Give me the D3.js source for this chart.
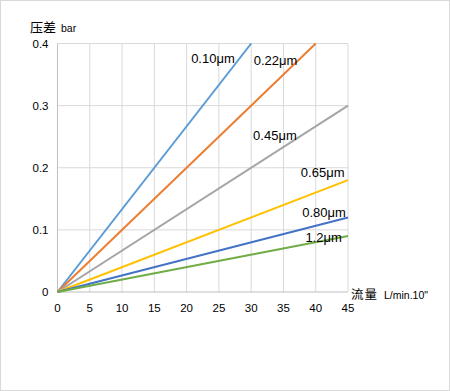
<!DOCTYPE html>
<html>
<head>
<meta charset="utf-8">
<script src="https://d3js.org/d3.v7.min.js"></script>
<style>
  body { margin: 0; background: #fff; }
  svg { display: block; font-family: "Liberation Sans", Arial, sans-serif; }
</style>
</head>
<body>
<svg id="chart" width="450" height="391"></svg>
<script>
// data: pressure drop (bar) vs flow (L/min per 10" element)
const xTicks = [0, 5, 10, 15, 20, 25, 30, 35, 40, 45];
const yTicks = [0, 0.1, 0.2, 0.3, 0.4];
const poreSizes = ["0.10μm", "0.22μm", "0.45μm", "0.65μm", "0.80μm", "1.2μm"];
const flowPoints = [
  [0, 30],
  [0, 40],
  [0, 45],
  [0, 45],
  [0, 45],
  [0, 45]
];
const dpPoints = [
  [0, 0.4],
  [0, 0.4],
  [0, 0.3],
  [0, 0.18],
  [0, 0.12],
  [0, 0.09]
];
const colors = ["#5B9BD5", "#ED7D31", "#A5A5A5", "#FFC000", "#4472C4", "#70AD47"];
// label anchors in data units (left edge / baseline)
const labelAt = [
  [20.7, 0.369],
  [30.4, 0.365],
  [30.3, 0.244],
  [37.7, 0.185],
  [37.9, 0.12],
  [38.4, 0.081]
];

const svg = d3.select("#chart");
const W = 450, H = 391;

svg.append("rect")
  .attr("x", 0.5).attr("y", 0.5)
  .attr("width", W - 1).attr("height", H - 1)
  .attr("fill", "#fff").attr("stroke", "#d9d9d9");

const x = d3.scaleLinear([0, 45], [57.5, 348]);
const y = d3.scaleLinear([0, 0.4], [292, 43.5]);

// grid
svg.append("g")
  .selectAll("line")
  .data(xTicks.slice(1))
  .join("line")
  .attr("x1", d => x(d)).attr("x2", d => x(d))
  .attr("y1", y(0)).attr("y2", y(0.4))
  .attr("stroke", "#d9d9d9");

svg.append("g")
  .selectAll("line")
  .data(yTicks.slice(1))
  .join("line")
  .attr("x1", x(0)).attr("x2", x(45))
  .attr("y1", d => y(d)).attr("y2", d => y(d))
  .attr("stroke", "#d9d9d9");

// axes lines
svg.append("line")
  .attr("x1", x(0)).attr("x2", x(0))
  .attr("y1", y(0)).attr("y2", y(0.4))
  .attr("stroke", "#bfbfbf");
svg.append("line")
  .attr("x1", x(0)).attr("x2", x(45))
  .attr("y1", y(0)).attr("y2", y(0))
  .attr("stroke", "#bfbfbf");

// tick labels
svg.append("g")
  .selectAll("text")
  .data(xTicks)
  .join("text")
  .attr("x", d => x(d))
  .attr("y", 312)
  .attr("text-anchor", "middle")
  .attr("font-size", 11.5)
  .attr("fill", "#000")
  .text(d => d);

svg.append("g")
  .selectAll("text")
  .data(yTicks)
  .join("text")
  .attr("x", 48.5)
  .attr("y", d => y(d) + 4)
  .attr("text-anchor", "end")
  .attr("font-size", 11.5)
  .attr("fill", "#000")
  .text(d => d === 0 ? "0" : d.toFixed(1));

// series lines
const line = d3.line()
  .x(d => x(d[0]))
  .y(d => y(d[1]));

svg.append("g")
  .selectAll("path")
  .data(poreSizes.map((p, i) => flowPoints[i].map((f, j) => [f, dpPoints[i][j]])))
  .join("path")
  .attr("d", line)
  .attr("fill", "none")
  .attr("stroke", (d, i) => colors[i])
  .attr("stroke-width", 2);

// series labels
svg.append("g")
  .selectAll("text")
  .data(poreSizes)
  .join("text")
  .attr("x", (d, i) => x(labelAt[i][0]))
  .attr("y", (d, i) => y(labelAt[i][1]))
  .attr("font-size", 13)
  .attr("fill", "#000")
  .text(d => d);

// axis titles
const yt = svg.append("text").attr("x", 30).attr("y", 32).attr("fill", "#000");
yt.append("tspan").attr("font-family", "Noto Sans CJK SC").attr("font-size", 13).text("压差");
yt.append("tspan").attr("dx", 5).attr("font-size", 10.5).text("bar");

const xt = svg.append("text").attr("x", 351).attr("y", 299).attr("fill", "#000");
xt.append("tspan").attr("font-family", "Noto Sans CJK SC").attr("font-size", 12.5).attr("letter-spacing", 1).text("流量");
xt.append("tspan").attr("dx", 6).attr("font-size", 10.5).text("L/min.10\"");
</script>
</body>
</html>
